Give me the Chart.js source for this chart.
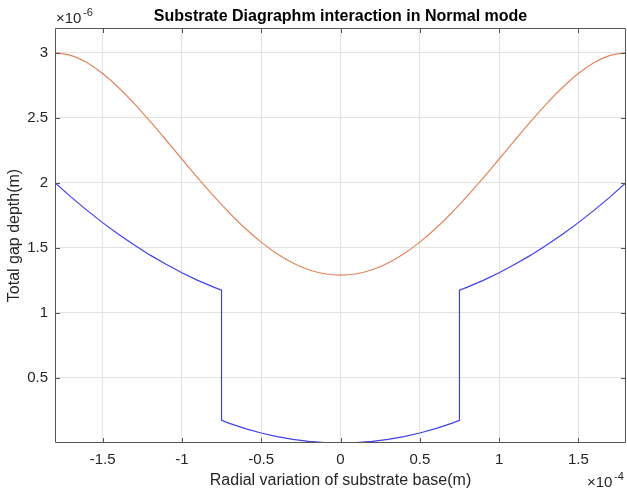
<!DOCTYPE html>
<html>
<head>
<meta charset="utf-8">
<script src="https://cdn.jsdelivr.net/npm/chart.js@4/dist/chart.umd.min.js"></script>
<style>
  html,body{margin:0;padding:0;background:#fff;}
  #wrap{position:relative;width:627px;height:494px;}
</style>
</head>
<body>
<div id="wrap"><canvas id="c" width="627" height="494"></canvas></div>
<script>
// x in units of 1e-4 m, y in units of 1e-6 m
const xGrid = [-1.8,-1.7,-1.6,-1.5,-1.4,-1.3,-1.2,-1.1,-1.0,-0.9,-0.8,-0.7,-0.6,-0.5,-0.4,-0.3,-0.2,-0.1,0,
  0.1,0.2,0.3,0.4,0.5,0.6,0.7,0.8,0.9,1.0,1.1,1.2,1.3,1.4,1.5,1.6,1.7,1.8];
const normalGap = [3.000,2.980,2.925,2.840,2.733,2.609,2.472,2.329,2.183,2.038,1.899,1.768,1.649,1.544,1.455,1.384,1.332,1.301,1.290,
  1.301,1.332,1.384,1.455,1.544,1.649,1.768,1.899,2.038,2.183,2.329,2.472,2.609,2.733,2.840,2.925,2.980,3.000];

const xDiaph = [-1.8,-1.7,-1.6,-1.5,-1.4,-1.3,-1.2,-1.1,-1.0,-0.9,-0.8,-0.75,-0.75,-0.7,-0.6,-0.5,-0.4,-0.3,-0.2,-0.1,0,
  0.1,0.2,0.3,0.4,0.5,0.6,0.7,0.75,0.75,0.8,0.9,1.0,1.1,1.2,1.3,1.4,1.5,1.6,1.7,1.8];
const diaphGap = [2.000,1.892,1.790,1.694,1.605,1.522,1.444,1.374,1.309,1.250,1.198,1.174,0.174,0.151,0.111,0.077,0.049,0.028,0.012,0.003,0.000,
  0.003,0.012,0.028,0.049,0.077,0.111,0.151,0.174,1.174,1.198,1.250,1.309,1.374,1.444,1.522,1.605,1.694,1.790,1.892,2.000];

const xTicks = [-1.5,-1,-0.5,0,0.5,1,1.5];
const yTicks = [0.5,1,1.5,2,2.5,3];

const FONT = '"Liberation Sans", Arial, sans-serif';
const AX = '#262626';

const pts = (xs, ys) => xs.map((x,i)=>({x, y: ys[i]}));

const frame = {
  id:'frame',
  afterDraw(chart){
    const {ctx, chartArea:a, scales:{x, y}} = chart;
    ctx.save();
    ctx.strokeStyle = '#555';
    ctx.lineWidth = 1;
    ctx.beginPath();
    ctx.rect(Math.round(a.left)+0.5, Math.round(a.top)+0.5, Math.round(a.right-a.left)-1, Math.round(a.bottom-a.top)-1);
    ctx.stroke();
    // inward ticks on all four sides
    ctx.beginPath();
    xTicks.forEach(v=>{
      const px = Math.round(x.getPixelForValue(v))+0.5;
      ctx.moveTo(px, a.bottom); ctx.lineTo(px, a.bottom-5);
      ctx.moveTo(px, a.top); ctx.lineTo(px, a.top+5);
    });
    yTicks.forEach(v=>{
      const py = Math.round(y.getPixelForValue(v))+0.5;
      ctx.moveTo(a.left, py); ctx.lineTo(a.left+5, py);
      ctx.moveTo(a.right, py); ctx.lineTo(a.right-5, py);
    });
    ctx.stroke();
    // exponent labels
    ctx.fillStyle = AX;
    ctx.textBaseline = 'alphabetic';
    ctx.textAlign = 'left';
    ctx.font = '15px ' + FONT;
    ctx.fillText('\u00d710', 56, 23);
    ctx.font = '11px ' + FONT;
    ctx.fillText('-6', 83, 16);
    ctx.font = '15px ' + FONT;
    ctx.fillText('\u00d710', 587, 487);
    ctx.font = '11px ' + FONT;
    ctx.fillText('-4', 614, 480);
    ctx.restore();
  }
};

new Chart(document.getElementById('c'), {
  type:'scatter',
  data:{
    datasets:[
      {label:'Normal', data:pts(xGrid, normalGap), showLine:true, borderColor:'#e5855c', borderWidth:1.2, pointRadius:0, cubicInterpolationMode:'monotone'},
      {label:'Diaphragm', data:pts(xDiaph, diaphGap), showLine:true, borderColor:'#4040f0', borderWidth:1.2, pointRadius:0, tension:0}
    ]
  },
  options:{
    responsive:false,
    animation:false,
    layout:{padding:{top:28, right:1, left:0, bottom:0}},
    plugins:{
      legend:{display:false},
      tooltip:{enabled:false},
      title:{display:false}
    },
    scales:{
      x:{
        type:'linear', min:-1.8, max:1.8,
        afterBuildTicks(s){ s.ticks = xTicks.map(v=>({value:v})); },
        afterFit(s){ s.height = 51; },
        grid:{color:'#e3e3e3', drawTicks:false},
        border:{display:false},
        ticks:{padding:8, color:AX, font:{family:FONT, size:15}, callback:v=>String(v)},
        title:{display:true, text:'Radial variation of substrate base(m)', color:AX, font:{family:FONT, size:16}}
      },
      y:{
        type:'linear', min:0, max:3.19,
        afterBuildTicks(s){ s.ticks = yTicks.map(v=>({value:v})); },
        afterFit(s){ s.width = 55; },
        grid:{color:'#e3e3e3', drawTicks:false},
        border:{display:false},
        ticks:{padding:7, color:AX, font:{family:FONT, size:15}, callback:v=>String(v)},
        title:{display:true, text:'Total gap depth(m)', color:AX, font:{family:FONT, size:16}, padding:{top:5, bottom:2}}
      }
    }
  },
  plugins:[frame, {
    id:'titleText',
    afterDraw(chart){
      const {ctx, chartArea:a} = chart;
      ctx.save();
      ctx.fillStyle = '#000';
      ctx.font = 'bold 16px ' + FONT;
      ctx.textAlign = 'center';
      ctx.textBaseline = 'alphabetic';
      ctx.fillText('Substrate Diagraphm interaction in Normal mode', (a.left+a.right)/2, 21);
      ctx.restore();
    }
  }]
});
</script>
</body>
</html>
